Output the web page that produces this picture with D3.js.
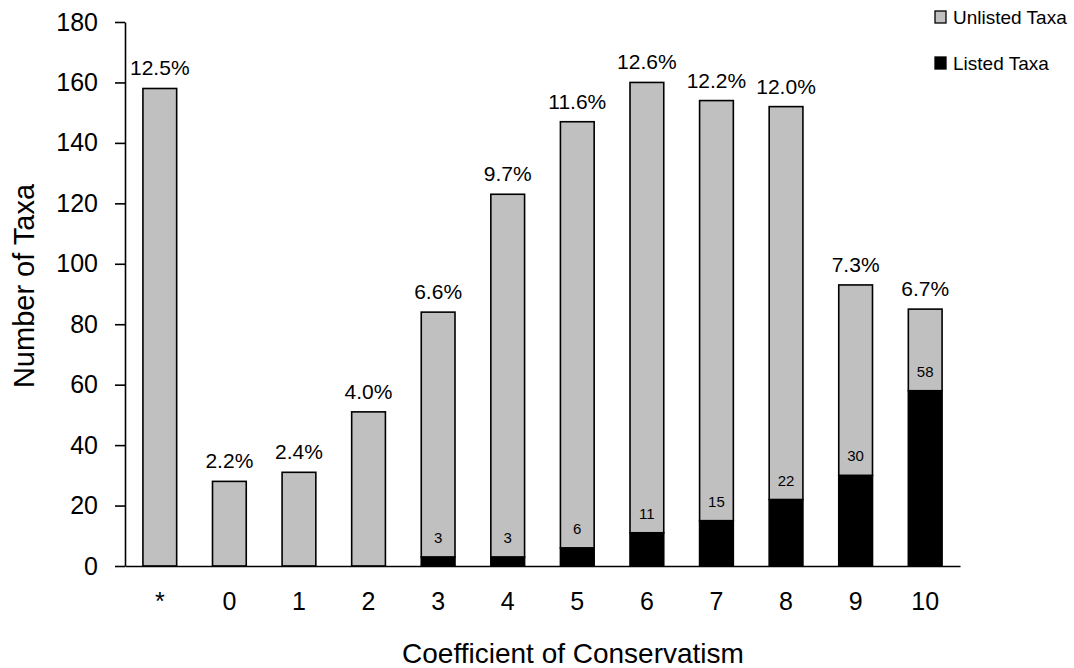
<!DOCTYPE html>
<html>
<head>
<meta charset="utf-8">
<script src="https://cdn.jsdelivr.net/npm/d3@7"></script>
<style>
  body { margin: 0; background: #fff; }
  svg { display: block; font-family: Arial, "Liberation Sans", sans-serif; }
</style>
</head>
<body>
<svg id="chart" width="1074" height="668"></svg>
<script>
const categories = ["*", "0", "1", "2", "3", "4", "5", "6", "7", "8", "9", "10"];
const totalTaxa  = [158, 28, 31, 51, 84, 123, 147, 160, 154, 152, 93, 85];
const listedTaxa = [0, 0, 0, 0, 3, 3, 6, 11, 15, 22, 30, 58];
const percentLabels = ["12.5%", "2.2%", "2.4%", "4.0%", "6.6%", "9.7%", "11.6%", "12.6%", "12.2%", "12.0%", "7.3%", "6.7%"];
const yTicks = [0, 20, 40, 60, 80, 100, 120, 140, 160, 180];
const seriesNames = ["Unlisted Taxa", "Listed Taxa"];
const seriesColors = ["#c0c0c0", "#000000"];

(function () {
const svg = d3.select("#chart");
const mLeft = 125, mRight = 960, mTop = 22, mBottom = 566;

const x = d3.scaleBand().domain(categories).range([mLeft, mRight]).paddingInner(0.515).paddingOuter(0.2575);
const y = d3.scaleLinear().domain([0, 180]).range([mBottom, mTop]);

const data = categories.map((c, i) => ({ c, total: totalTaxa[i], listed: listedTaxa[i], unlisted: totalTaxa[i] - listedTaxa[i], pct: percentLabels[i] }));
const stack = d3.stack().keys(["listed", "unlisted"])(data);

const keyColor = { listed: seriesColors[1], unlisted: seriesColors[0] };
stack.forEach(layer => {
  svg.append("g").selectAll("rect").data(layer.filter(d => d[1] > d[0])).join("rect")
    .attr("x", d => x(d.data.c))
    .attr("width", x.bandwidth())
    .attr("y", d => y(d[1]))
    .attr("height", d => y(d[0]) - y(d[1]))
    .attr("fill", keyColor[layer.key])
    .attr("stroke", "#000")
    .attr("stroke-width", 1.6);
});

const yAxis = svg.append("g").attr("transform", `translate(${mLeft},0)`)
  .call(d3.axisLeft(y).tickValues(yTicks).tickSize(10).tickPadding(17).tickSizeOuter(0));
yAxis.select(".domain").attr("stroke", "#000").attr("stroke-width", 1.6);
yAxis.selectAll(".tick line").attr("stroke", "#000").attr("stroke-width", 1.6);
yAxis.selectAll(".tick text").attr("font-size", 25).attr("fill", "#000").attr("font-family", "Arial, 'Liberation Sans', sans-serif");

const xAxis = svg.append("g").attr("transform", `translate(0,${mBottom})`)
  .call(d3.axisBottom(x).tickSize(0).tickPadding(26).tickSizeOuter(0));
xAxis.select(".domain").attr("stroke", "#000").attr("stroke-width", 1.6);
xAxis.selectAll(".tick text").attr("font-size", 25).attr("fill", "#000").attr("font-family", "Arial, 'Liberation Sans', sans-serif");

svg.append("g").selectAll("text").data(data).join("text")
  .attr("x", d => x(d.c) + x.bandwidth() / 2)
  .attr("y", d => y(d.total) - 13)
  .attr("text-anchor", "middle")
  .attr("font-size", 21)
  .text(d => d.pct);

svg.append("g").selectAll("text").data(data.filter(d => d.listed > 0)).join("text")
  .attr("x", d => x(d.c) + x.bandwidth() / 2)
  .attr("y", d => y(d.listed) - 14)
  .attr("text-anchor", "middle")
  .attr("font-size", 15)
  .text(d => d.listed);

svg.append("text").attr("x", 573).attr("y", 663).attr("text-anchor", "middle").attr("font-size", 28).text("Coefficient of Conservatism");
svg.append("text").attr("transform", `translate(34,286) rotate(-90)`).attr("text-anchor", "middle").attr("font-size", 29).text("Number of Taxa");

const legend = svg.append("g");
seriesNames.forEach((name, i) => {
  const gy = 11 + i * 46;
  legend.append("rect").attr("x", 935).attr("y", gy).attr("width", 11).attr("height", 12)
    .attr("fill", seriesColors[i]).attr("stroke", "#000").attr("stroke-width", 1.3);
  legend.append("text").attr("x", 953).attr("y", gy + 13).attr("font-size", 19).text(name);
});
})();
</script>
</body>
</html>
